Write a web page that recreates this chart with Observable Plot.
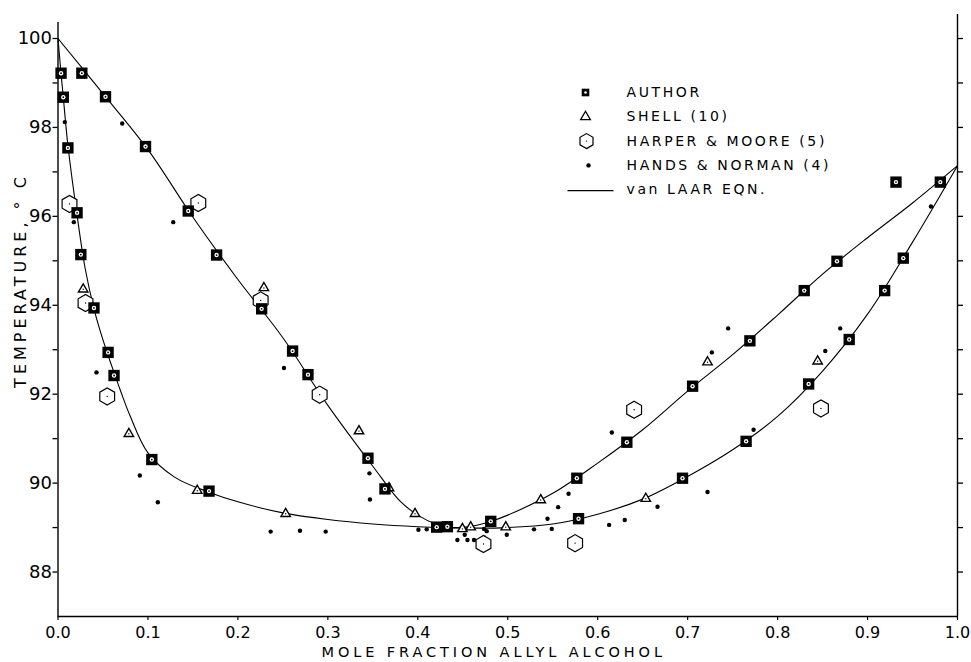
<!DOCTYPE html>
<html>
<head>
<meta charset="utf-8">
<script src="https://cdn.jsdelivr.net/npm/d3@7"></script>
<script src="https://cdn.jsdelivr.net/npm/@observablehq/plot@0.6"></script>
<style>
  html, body { margin: 0; padding: 0; background: #fff; }
  #chart svg { display: block; }
</style>
</head>
<body>
<div id="chart"></div>
<script>
// ---------- data ----------
// AUTHOR (filled squares)
const authorX = [0.0034, 0.0059, 0.011, 0.0212, 0.0254, 0.040, 0.0557, 0.0623, 0.1043, 0.1679,
                 0.5787, 0.6943, 0.765, 0.8345, 0.8796, 0.919, 0.9397,
                 0.0265, 0.0528, 0.0973, 0.1448, 0.1763, 0.2264, 0.2608, 0.2779, 0.3446, 0.3635,
                 0.421, 0.4329, 0.4811, 0.5768, 0.6324, 0.7055, 0.7692, 0.8296, 0.866, 0.9809, 0.9316];
const authorT = [99.22, 98.68, 97.54, 96.08, 95.14, 93.94, 92.94, 92.42, 90.53, 89.82,
                 89.20, 90.11, 90.94, 92.23, 93.23, 94.33, 95.06,
                 99.22, 98.69, 97.57, 96.12, 95.13, 93.92, 92.97, 92.44, 90.56, 89.87,
                 89.01, 89.02, 89.14, 90.11, 90.92, 92.18, 93.20, 94.33, 94.99, 96.77, 96.77];
// SHELL (10) (open triangles)
const shellX = [0.028, 0.2289, 0.0788, 0.1548, 0.2531, 0.3346, 0.368, 0.3969, 0.4496, 0.4588, 0.4978, 0.5367, 0.6535, 0.7221, 0.8445];
const shellT = [94.36, 94.39, 91.11, 89.83, 89.31, 91.17, 89.89, 89.31, 88.97, 89.01, 89.01, 89.62, 89.65, 92.72, 92.74];
// HARPER & MOORE (5) (open hexagons)
const harperX = [0.0128, 0.156, 0.2253, 0.0306, 0.0547, 0.2909, 0.6405, 0.473, 0.5749, 0.8482];
const harperT = [96.28, 96.30, 94.11, 94.05, 91.95, 91.99, 91.65, 88.63, 88.65, 91.68];
// HANDS & NORMAN (4) (small dots)
const handsX = [0.0076, 0.0714, 0.1281, 0.0176, 0.2512, 0.0428, 0.091, 0.111, 0.2364, 0.269, 0.2976,
                0.3462, 0.3468, 0.4007, 0.4099, 0.444, 0.4522, 0.4552, 0.4625, 0.4736, 0.4766, 0.4736,
                0.4989, 0.5292, 0.5489, 0.5442, 0.556, 0.5676, 0.6157, 0.6127, 0.6301, 0.745, 0.7269,
                0.8696, 0.853, 0.7733, 0.7221, 0.6665, 0.9705];
const handsT = [98.12, 98.09, 95.87, 95.87, 92.59, 92.49, 90.17, 89.57, 88.91, 88.93, 88.91,
                90.22, 89.63, 88.95, 88.96, 88.72, 88.84, 88.72, 88.72, 88.97, 88.92, 88.78,
                88.84, 88.96, 88.97, 89.20, 89.46, 89.76, 91.14, 89.06, 89.17, 93.48, 92.94,
                93.48, 92.97, 91.20, 89.80, 89.47, 96.22];
// van LAAR EQN. curves
const liquidX = [0, 0.003, 0.006, 0.011, 0.02, 0.03, 0.04, 0.05, 0.06, 0.07, 0.08, 0.1, 0.13, 0.17, 0.2, 0.25,
                 0.3, 0.35, 0.4, 0.45, 0.5, 0.55, 0.6, 0.65, 0.7, 0.75, 0.8, 0.85, 0.9, 0.95, 1.0];
const liquidT = [100, 99.3, 98.65, 97.6, 96.2, 94.85, 93.92, 93.22, 92.62, 92.05, 91.52, 90.68, 90.13, 89.78, 89.58, 89.33,
                 89.18, 89.08, 89.02, 88.99, 89.0, 89.08, 89.3, 89.64, 90.15, 90.75, 91.5, 92.52, 93.8, 95.42, 97.14];
const vaporX = [0, 0.05, 0.1, 0.15, 0.2, 0.25, 0.3, 0.35, 0.38, 0.4, 0.42, 0.44, 0.46, 0.48, 0.5,
                0.55, 0.6, 0.65, 0.7, 0.75, 0.8, 0.85, 0.9, 0.95, 1.0];
const vaporT = [100, 98.76, 97.5, 95.98, 94.58, 93.27, 91.75, 90.38, 89.6, 89.28, 89.08, 89.0, 89.03, 89.13, 89.28,
                89.77, 90.45, 91.2, 92.07, 92.89, 93.78, 94.7, 95.52, 96.3, 97.14];

// ticks and labels
const yTicks = [88, 90, 92, 94, 96, 98, 100];
const yTickLabels = ["88", "90", "92", "94", "96", "98", "100"];
const yMinorTicks = [89, 91, 93, 95, 97, 99];
const rightTicks = [88, 89, 90, 91, 92, 93, 94, 95, 96, 97, 98, 99, 100];
const xTicks = [0, 0.1, 0.2, 0.3, 0.4, 0.5, 0.6, 0.7, 0.8, 0.9, 1.0];
const xTickLabels = ["0.0", "0.1", "0.2", "0.3", "0.4", "0.5", "0.6", "0.7", "0.8", "0.9", "1.0"];
const xTitle = "MOLE FRACTION ALLYL ALCOHOL";
const yTitle = "TEMPERATURE, \u00B0 C";
const legendLabels = ["AUTHOR", "SHELL (10)", "HARPER & MOORE (5)", "HANDS & NORMAN (4)", "van LAAR EQN."];

// ---------- build tables ----------
const zip = (xs, ys) => xs.map((x, i) => ({x, t: ys[i]}));
const author = zip(authorX, authorT);
const shell = zip(shellX, shellT);
const harper = zip(harperX, harperT);
const hands = zip(handsX, handsT);
const liquid = zip(liquidX, liquidT);
const vapor = zip(vaporX, vaporT);

// ---------- styling ----------
const FONT = "DejaVu Sans";
const lineSymbol = { draw(ctx) { ctx.moveTo(-23, 0); ctx.lineTo(23, 0); } };
const legendSymX = 527.5, legendTextX = 568.5, legendTop = 78, legendStep = 24.3;
const rowDy = i => legendTop + i * legendStep;

const legendMarks = [
  Plot.dot([0], {frameAnchor: "top-left", dx: legendSymX, dy: rowDy(0), symbol: "square", r: 4.3, fill: "black"}),
  Plot.dot([0], {frameAnchor: "top-left", dx: legendSymX, dy: rowDy(0), r: 1.3, fill: "white"}),
  Plot.dot([0], {frameAnchor: "top-left", dx: legendSymX, dy: rowDy(1), symbol: "triangle", r: 3.6, fill: "white", stroke: "black", strokeWidth: 1.3}),
  Plot.dot([0], {frameAnchor: "top-left", dx: legendSymX + 1, dy: rowDy(2), symbol: "hexagon", r: 6.5, fill: "white", stroke: "black", strokeWidth: 1.2}),
  Plot.dot([0], {frameAnchor: "top-left", dx: legendSymX + 1, dy: rowDy(2), r: 0.7, fill: "black"}),
  Plot.dot([0], {frameAnchor: "top-left", dx: legendSymX + 3, dy: rowDy(3), r: 2.2, fill: "black"}),
  Plot.dot([0], {frameAnchor: "top-left", dx: legendSymX + 5, dy: rowDy(4) + 1, symbol: lineSymbol, r: 1, fill: "none", stroke: "black", strokeWidth: 1.3}),
  ...legendLabels.map((label, i) =>
    Plot.text([label], {frameAnchor: "top-left", dx: legendTextX, dy: rowDy(i), textAnchor: "start", lineAnchor: "middle", fontSize: 14, fill: "black"}))
];

const chart = Plot.plot({
  width: 971,
  height: 662,
  marginLeft: 57.5,
  marginRight: 14,
  marginTop: 14,
  marginBottom: 46,
  style: {fontFamily: FONT, background: "white", color: "black"},
  x: {domain: [0, 1]},
  y: {domain: [87, 100.54]},
  marks: [
    // frame lines
    Plot.ruleX([0], {y1: 87, y2: 100.36, stroke: "black", strokeWidth: 1.4}),
    Plot.ruleX([1], {stroke: "black", strokeWidth: 1.4}),
    Plot.ruleY([87], {stroke: "black", strokeWidth: 1.6}),
    // axes
    Plot.axisY({ticks: yTicks, tickFormat: d => yTickLabels[yTicks.indexOf(d)], tickSize: 5, tickPadding: 1, fontSize: 18, label: null, strokeWidth: 1.3}),
    Plot.axisY({ticks: yMinorTicks, tickFormat: () => "", tickSize: 5, label: null, strokeWidth: 1.3}),
    Plot.axisY({anchor: "right", ticks: rightTicks, tickFormat: () => "", tickSize: 5, label: null, strokeWidth: 1.3}),
    Plot.axisX({ticks: xTicks, tickFormat: d => xTickLabels[xTicks.indexOf(d)], tickSize: 4, tickPadding: 6, fontSize: 16, label: null, strokeWidth: 1.2}),
    // axis titles
    Plot.text([yTitle], {frameAnchor: "left", textAnchor: "middle", lineAnchor: "middle", rotate: -90, dx: -37, dy: -35, fontSize: 16, fill: "black"}),
    Plot.text([xTitle], {frameAnchor: "bottom", textAnchor: "middle", lineAnchor: "middle", dx: -14, dy: 36, fontSize: 14.5, fill: "black"}),
    // van Laar curves
    Plot.line(liquid, {x: "x", y: "t", curve: "catmull-rom", stroke: "black", strokeWidth: 1.1}),
    Plot.line(vapor, {x: "x", y: "t", curve: "catmull-rom", stroke: "black", strokeWidth: 1.1}),
    // data
    Plot.dot(hands, {x: "x", y: "t", r: 2.2, fill: "black"}),
    Plot.dot(harper, {x: "x", y: "t", symbol: "hexagon", r: 7.4, fill: "white", stroke: "black", strokeWidth: 1.2}),
    Plot.dot(harper, {x: "x", y: "t", r: 0.7, fill: "black"}),
    Plot.dot(shell, {x: "x", y: "t", symbol: "triangle", r: 3.5, fill: "white", stroke: "black", strokeWidth: 1.4}),
    Plot.dot(shell, {x: "x", y: "t", r: 0.7, fill: "black"}),
    Plot.dot(author, {x: "x", y: "t", symbol: "square", r: 6.4, fill: "black"}),
    Plot.dot(author, {x: "x", y: "t", r: 2.2, fill: "white"}),
    Plot.dot(author, {x: "x", y: "t", r: 0.9, fill: "black"}),
    ...legendMarks
  ]
});

// letter spacing for the typewritten-style labels
d3.select(chart).selectAll("text").each(function () {
  const s = this.textContent;
  if (s === yTitle) this.style.letterSpacing = "4px";
  else if (s === xTitle) this.style.letterSpacing = "3.9px";
  else if (legendLabels.includes(s)) this.style.letterSpacing = "2.6px";
});

document.getElementById("chart").appendChild(chart);
</script>
</body>
</html>
